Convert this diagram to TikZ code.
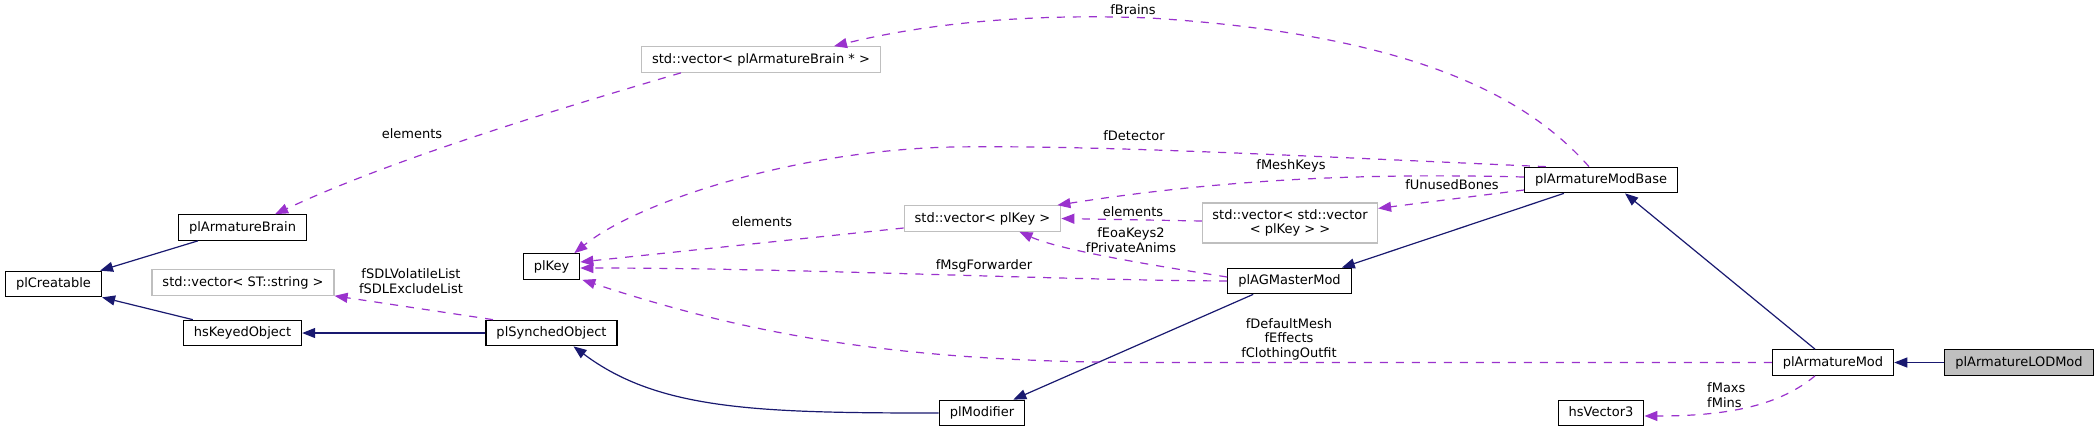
\documentclass[tikz,border=0pt]{standalone}
\usepackage{fontspec}
\setmainfont{DejaVu Sans}
\usetikzlibrary{arrows.meta}
\definecolor{inhc}{HTML}{191970}
\definecolor{usec}{HTML}{9A32CD}
\definecolor{grayb}{HTML}{BFBFBF}
\begin{document}
\begin{tikzpicture}[x=1pt,y=-1pt,
  font=\fontsize{13}{14.5}\selectfont,
  cls/.style={draw=black,line width=1.2pt,fill=white,minimum height=25.5pt,inner xsep=10.5pt,inner ysep=0pt,text height=10pt,text depth=3pt},
  ext/.style={cls,draw=grayb},
  inhedge/.style={draw=inhc,line width=1.2pt,-{Triangle[length=13pt,width=10pt]}},
  useedge/.style={draw=usec,line width=1.2pt,dash pattern=on 8pt off 8pt,-{Triangle[length=13pt,width=10pt]}},
  lbl/.style={inner sep=0pt,align=center}
]
\fill[white] (0,0) rectangle (2100,432);
\useasboundingbox (0,0) rectangle (2100,432);

% nodes
\node[cls] (pc) at (53.5,284) {plCreatable};
\node[cls] (pab) at (242.5,227.5) {plArmatureBrain};
\node[ext] (vst) at (243,282.5) {std::vector< ST::string >};
\node[cls] (hko) at (242.5,333) {hsKeyedObject};
\node[cls] (pso) at (551.5,333) {plSynchedObject};
\node[cls] (pk) at (551.5,266.5) {plKey};
\node[ext] (vab) at (761,59.5) {std::vector< plArmatureBrain * >};
\node[ext] (vk) at (982.5,218.5) {std::vector< plKey >};
\node[cls] (pm) at (982,413) {plModifier};
\node[draw=grayb,line width=1.2pt,fill=white,minimum height=40pt,minimum width=175pt,inner sep=0pt,align=center] (vvk) at (1290,223) {std::vector< std::vector\\< plKey > >};
\node[cls] (pag) at (1289.5,281) {plAGMasterMod};
\node[cls] (pamb) at (1601,180) {plArmatureModBase};
\node[cls] (hv) at (1601,413) {hsVector3};
\node[cls] (pam) at (1833,362.5) {plArmatureMod};
\node[cls,fill=grayb] (plod) at (2019,362.5) {plArmatureLODMod};

% inheritance
\draw[inhedge] ([xshift=20pt]pab.south west) -- ([xshift=-2pt]pc.north east);
\draw[inhedge] ([xshift=10pt]hko.north west) -- (pc.south east);
\draw[inhedge] (pso.west) -- (hko.east);
\draw[inhedge] (pm.west) .. controls +(-180,0) and +(85,64) .. ([xshift=22pt]pso.south);
\draw[inhedge] ([xshift=26pt]pag.south west) -- ([xshift=-12pt]pm.north east);
\draw[inhedge] ([xshift=40pt]pamb.south west) -- ([xshift=-10pt]pag.north east);
\draw[inhedge] ([xshift=-18pt]pam.north) -- ([xshift=24pt]pamb.south);
\draw[inhedge] (plod.west) -- (pam.east);

% usage
\draw[useedge] ([xshift=-12pt]pamb.north) .. controls (1530,100) and (1420,35) .. (1150,18) .. controls (1000,12) and (900,30) .. ([xshift=-47pt]vab.north east);
\node[lbl] (lfb) at (1133,10) {fBrains};
\draw[useedge] ([xshift=40pt]vab.south west) .. controls (520,120) and (380,165) .. ([xshift=-32pt]pab.north east);
\node[lbl] (lel1) at (412,134) {elements};
\draw[useedge] ([xshift=22pt]pamb.north west) .. controls (1300,156) and (1100,145) .. (953,147) .. controls (800,150) and (640,200) .. ([xshift=-6pt]pk.north east);
\node[lbl] (lfd) at (1134,136) {fDetector};
\draw[useedge] ([yshift=3pt]pamb.west) .. controls (1400,174) and (1250,175) .. ([xshift=-4pt]vk.north east);
\node[lbl] (lfmk) at (1291,166) {fMeshKeys};
\draw[useedge] ([yshift=-10pt]pamb.west) -- ([yshift=-6pt]vvk.north east);
\node[lbl] (lfub) at (1452,185) {fUnusedBones};
\draw[useedge] ([yshift=2pt]vvk.west) -- (vk.east);
\node[lbl] (lel2) at (1133,212) {elements};
\draw[useedge] ([yshift=-9.5pt]vk.west) -- ([yshift=4.5pt]pk.east);
\node[lbl] (lel3) at (762,222) {elements};
\draw[useedge] (pag.west) .. controls (1050,280) and (800,268) .. ([yshift=-1.5pt]pk.east);
\node[lbl] (lfmf) at (984,266) {fMsgForwarder};
\draw[useedge] ([yshift=4pt]pag.west) .. controls (1150,265) and (1060,250) .. ([xshift=37pt]vk.south);
\node[lbl] (lfeo) at (1131,240) {fEoaKeys2\\fPrivateAnims};
\draw[useedge] (pam.west) -- (1150,362.5) .. controls (900,362.5) and (750,335) .. ([xshift=2pt]pk.south east);
\node[lbl] (lfdm) at (1289,339) {fDefaultMesh\\fEffects\\fClothingOutfit};
\draw[useedge] ([xshift=-18pt]pam.south) .. controls (1780,405) and (1730,416) .. ([yshift=-3pt]hv.east);
\node[lbl,align=left,anchor=west] (lfmx) at (1707,395) {fMaxs\\fMins};
\draw[useedge] ([xshift=-58.5pt]pso.north) -- (vst.south east);
\node[lbl] (lfsdl) at (411,281) {fSDLVolatileList\\fSDLExcludeList};
\end{tikzpicture}
\end{document}
